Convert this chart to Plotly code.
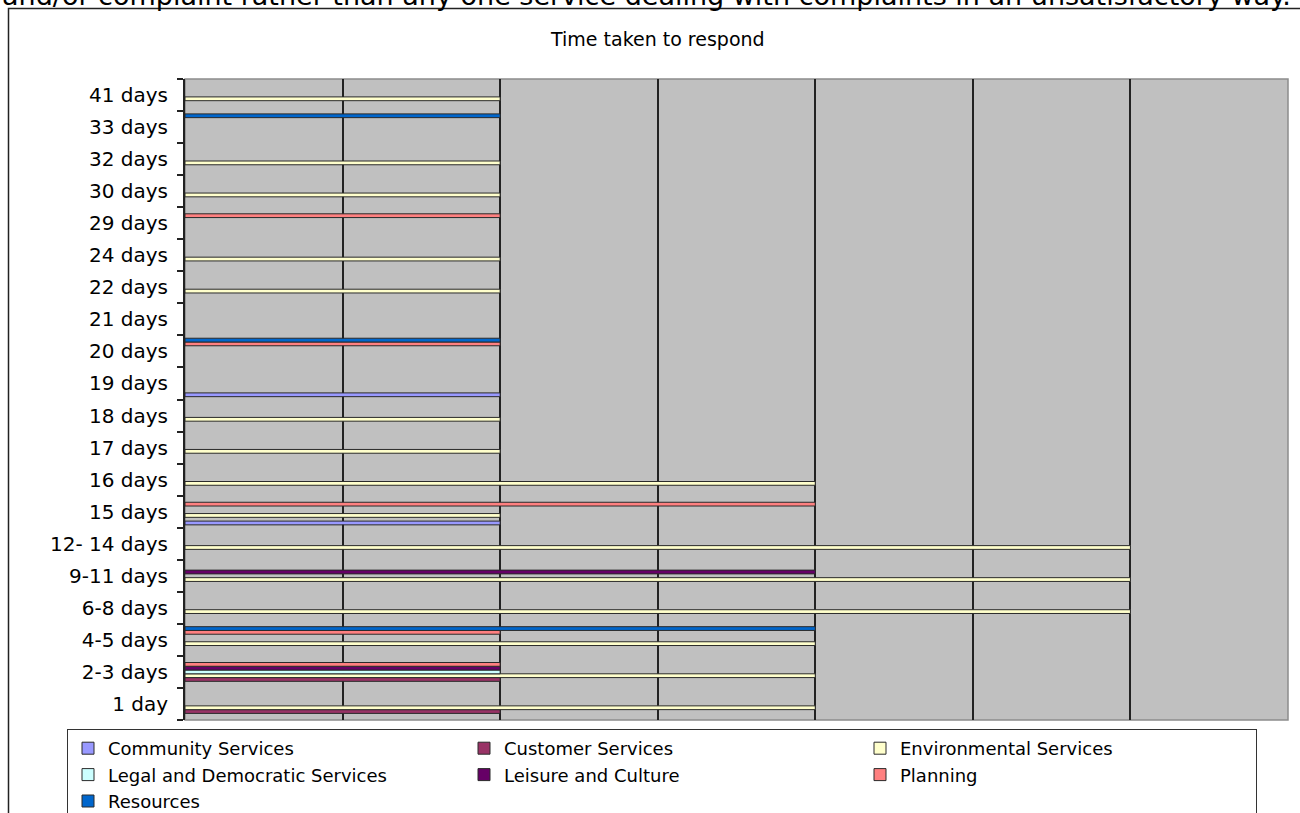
import plotly.graph_objects as go

# Categories, bottom to top (Plotly category axes start at the bottom)
categories = ["1 day", "2-3 days", "4-5 days", "6-8 days", "9-11 days", "12- 14 days",
              "15 days", "16 days", "17 days", "18 days", "19 days", "20 days",
              "21 days", "22 days", "24 days", "29 days", "30 days", "32 days",
              "33 days", "41 days"]

series_names = ["Community Services", "Customer Services", "Environmental Services",
                "Legal and Democratic Services", "Leisure and Culture", "Planning",
                "Resources"]

community     = [None, None, None, None, None, None, 1, None, None, None, 1, None, None, None, None, None, None, None, None, None]
customer      = [1, 1, None, None, None, None, None, None, None, None, None, None, None, None, None, None, None, None, None, None]
environmental = [2, 2, 2, 3, 3, 3, 1, 2, 1, 1, None, None, None, 1, 1, None, 1, 1, None, 1]
legal         = [None, 1, None, None, None, None, None, None, None, None, None, None, None, None, None, None, None, None, None, None]
leisure       = [None, 1, None, None, 2, None, None, None, None, None, None, None, None, None, None, None, None, None, None, None]
planning      = [None, 1, 1, None, None, None, 2, None, None, None, None, 1, None, None, None, 1, None, None, None, None]
resources     = [None, None, 2, None, None, None, None, None, None, None, None, 1, None, None, None, None, None, None, 1, None]

series_values = [community, customer, environmental, legal, leisure, planning, resources]
colors = ["#9999FF", "#993366", "#FFFFCC", "#CCFFFF", "#660066", "#FF8080", "#0066CC"]

title_text = "Time taken to respond"
top_text = "and/or complaint rather than any one service dealing with complaints in an unsatisfactory way."

W, H = 1300, 813
L, R, T, B = 185, 1288, 79, 720
pw, ph = R - L, B - T

def px_x(p):
    return (p - L) / pw

def px_y(p):
    return 1 + (T - p) / ph

FONT = "DejaVu Sans, Arial, sans-serif"

fig = go.Figure()
for name, vals, col in zip(series_names, series_values, colors):
    fig.add_trace(go.Bar(
        y=categories, x=vals, name=name, orientation="h",
        marker=dict(color=col, line=dict(color="#2a2a2a", width=1)),
    ))

fig.update_layout(
    width=W, height=H,
    margin=dict(l=L, r=W - R, t=T, b=H - B, pad=0, autoexpand=False),
    paper_bgcolor="white",
    plot_bgcolor="#C0C0C0",
    barmode="group",
    bargap=1.5 / 8.5,
    bargroupgap=0,
    font=dict(family=FONT, color="black"),
    showlegend=True,
    legend=dict(
        orientation="h", traceorder="normal",
        x=px_x(67), xanchor="left", y=px_y(729), yanchor="top",
        bgcolor="white", bordercolor="#333333", borderwidth=1,
        font=dict(size=18, family=FONT),
        entrywidth=351, entrywidthmode="pixels",
        itemclick=False,
    ),
    xaxis=dict(
        range=[0, 3.5], dtick=0.5, showticklabels=False, ticks="",
        showgrid=True, gridcolor="#222222", gridwidth=2,
        zeroline=False, showline=False, fixedrange=True,
    ),
    yaxis=dict(
        type="category", categoryorder="array", categoryarray=categories,
        tickson="boundaries", ticks="outside", ticklen=6, tickcolor="#222222", tickwidth=1.5,
        showgrid=False, showline=True, linecolor="#222222", linewidth=2,
        tickfont=dict(size=20, family=FONT),
        ticklabelstandoff=11, fixedrange=True,
    ),
)

# plot-area outline (gray, like the original chart)
fig.add_shape(type="rect", xref="paper", yref="paper", x0=0, x1=1, y0=0, y1=1,
              line=dict(color="#8c8c8c", width=1.5), layer="below")
# outer chart frame
fig.add_shape(type="rect", xref="paper", yref="paper",
              x0=px_x(8.5), x1=px_x(1340), y0=px_y(900), y1=px_y(8.5),
              line=dict(color="#222222", width=1.5), fillcolor="rgba(0,0,0,0)")

fig.add_annotation(text=title_text, xref="paper", yref="paper",
                   x=px_x(657), y=px_y(39), xanchor="center", yanchor="middle",
                   showarrow=False, font=dict(size=19, color="black", family=FONT))
fig.add_annotation(text=top_text, xref="paper", yref="paper",
                   x=px_x(0), y=px_y(-5), xanchor="left", yanchor="middle",
                   showarrow=False, font=dict(size=27, color="black", family=FONT))

fig.write_html("out.html")
